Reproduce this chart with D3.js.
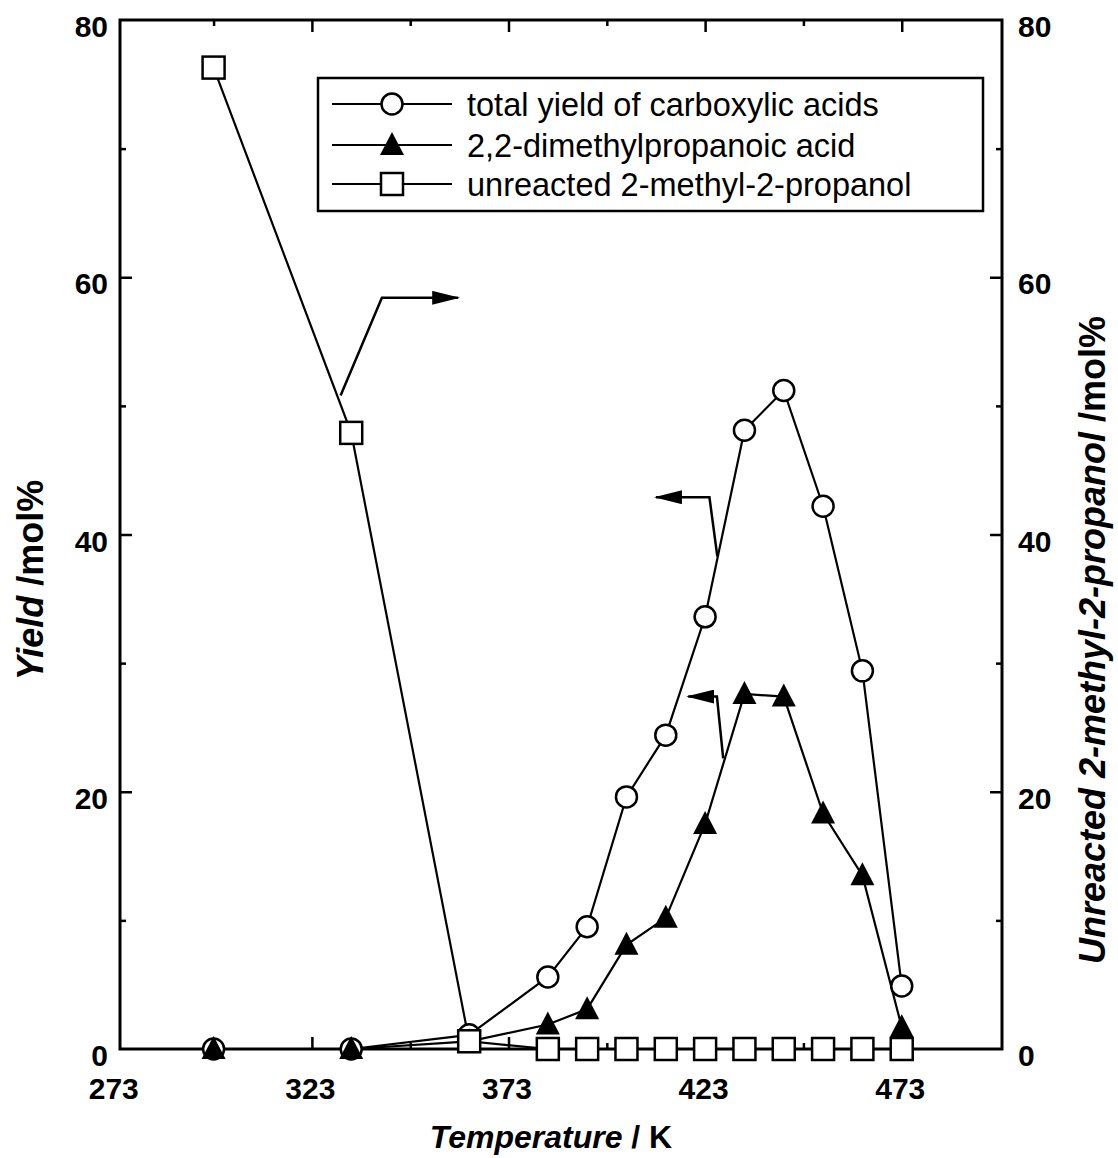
<!DOCTYPE html>
<html>
<head>
<meta charset="utf-8">
<script src="https://cdn.jsdelivr.net/npm/d3@7/dist/d3.min.js"></script>
<style>
  html, body { margin: 0; padding: 0; background: #fff; }
  svg { display: block; }
  text { font-family: "Liberation Sans", Arial, sans-serif; fill: #000; }
</style>
</head>
<body>
<svg id="chart" width="1118" height="1158"></svg>
<script>
// Reaction temperature (K)
const temps = [298, 333, 363, 383, 393, 403, 413, 423, 433, 443, 453, 463, 473];
// Total yield of carboxylic acids (mol%, left axis)
const totalYield = [0, 0, 1.1, 5.6, 9.5, 19.6, 24.4, 33.6, 48.1, 51.2, 42.2, 29.4, 4.9];
// 2,2-dimethylpropanoic acid yield (mol%, left axis)
const acidYield = [0, 0, 0.6, 1.9, 3.1, 8.1, 10.2, 17.5, 27.6, 27.4, 18.3, 13.5, 1.7];
// Unreacted 2-methyl-2-propanol (mol%, right axis)
const unreacted = [76.3, 47.9, 0.6, 0, 0, 0, 0, 0, 0, 0, 0, 0, 0];

const xTickLabels = [273, 323, 373, 423, 473];
const xMinorTicks = [298, 348, 398, 448];
const yTickLabels = [0, 20, 40, 60, 80];
const yMinorTicks = [10, 30, 50, 70];

const legendLabels = [
  "total yield of carboxylic acids",
  "2,2-dimethylpropanoic acid",
  "unreacted 2-methyl-2-propanol"
];

// Pointer arrows: [T, value] polylines, tail first, tip last
const pointerArrows = [
  [[330.3, 50.8], [340.8, 58.4], [360.2, 58.4]],
  [[426.1, 38.3], [424.1, 42.9], [410.5, 42.9]],
  [[427.6, 22.6], [426.0, 27.4], [418.7, 27.4]]
];

const svg = d3.select("#chart");
const L = 120, R = 1002, T = 20, B = 1049;

const x = d3.scaleLinear().domain([274.2, 498.5]).range([L, R]);
const yL = d3.scaleLinear().domain([0, 80]).range([B, T]);
const yR = d3.scaleLinear().domain([0, 80]).range([B, T]);

// frame
svg.append("rect")
  .attr("x", L).attr("y", T).attr("width", R - L).attr("height", B - T)
  .attr("fill", "none").attr("stroke", "#000").attr("stroke-width", 3);

function tickGroup(axis, tx, ty) {
  const g = svg.append("g").attr("transform", `translate(${tx},${ty})`).call(axis);
  g.select(".domain").remove();
  g.selectAll(".tick line").attr("stroke", "#000").attr("stroke-width", 2.5);
  g.selectAll("text").remove();
  return g;
}

// inward ticks on all four sides
tickGroup(d3.axisBottom(x).tickValues(xTickLabels.filter(v => x(v) > L)).tickSizeInner(-12).tickSizeOuter(0), 0, B);
tickGroup(d3.axisBottom(x).tickValues(xMinorTicks).tickSizeInner(-6).tickSizeOuter(0), 0, B);
tickGroup(d3.axisTop(x).tickValues(xTickLabels.filter(v => x(v) > L)).tickSizeInner(-12).tickSizeOuter(0), 0, T);
tickGroup(d3.axisTop(x).tickValues(xMinorTicks).tickSizeInner(-6).tickSizeOuter(0), 0, T);
tickGroup(d3.axisLeft(yL).tickValues(yTickLabels.slice(1, 4)).tickSizeInner(-12).tickSizeOuter(0), L, 0);
tickGroup(d3.axisLeft(yL).tickValues(yMinorTicks).tickSizeInner(-6).tickSizeOuter(0), L, 0);
tickGroup(d3.axisRight(yR).tickValues(yTickLabels.slice(1, 4)).tickSizeInner(-12).tickSizeOuter(0), R, 0);
tickGroup(d3.axisRight(yR).tickValues(yMinorTicks).tickSizeInner(-6).tickSizeOuter(0), R, 0);

// tick labels
function labelAxis(axis, tx, ty, anchor, dy) {
  const g = svg.append("g").attr("transform", `translate(${tx},${ty})`).call(axis);
  g.select(".domain").remove();
  g.selectAll(".tick line").remove();
  g.selectAll("text")
    .attr("font-family", "'Liberation Sans', Arial, sans-serif")
    .attr("font-size", 30).attr("font-weight", "bold")
    .attr("fill", "#000").attr("text-anchor", anchor)
    .attr("dy", dy).attr("x", 0).attr("y", 0);
  return g;
}
labelAxis(d3.axisBottom(x).tickValues(xTickLabels).tickSize(0), -2, B, "middle", "1.67em");
labelAxis(d3.axisLeft(yL).tickValues(yTickLabels).tickSize(0), L - 12, 0, "end", "0.55em");
labelAxis(d3.axisRight(yR).tickValues(yTickLabels).tickSize(0), R + 16, 0, "start", "0.55em");

// axis titles
const xt = svg.append("text").attr("x", 551).attr("y", 1148)
  .attr("text-anchor", "middle").attr("font-size", 32).attr("font-weight", "bold");
xt.append("tspan").attr("font-style", "italic").text("Temperature");
xt.append("tspan").text(" / K");

const ylt = svg.append("text").attr("transform", "translate(43,580) rotate(-90)")
  .attr("text-anchor", "middle").attr("font-size", 36).attr("font-weight", "bold");
ylt.append("tspan").attr("font-style", "italic").text("Yield");
ylt.append("tspan").text(" /mol%");

const yrt = svg.append("text").attr("transform", "translate(1105,640) rotate(-90)")
  .attr("text-anchor", "middle").attr("font-size", 36).attr("font-weight", "bold");
yrt.append("tspan").attr("font-style", "italic").text("Unreacted 2-methyl-2-propanol");
yrt.append("tspan").text(" /mol%");

// series lines
const lineL = d3.line().x(d => x(d[0])).y(d => yL(d[1]));
const lineR = d3.line().x(d => x(d[0])).y(d => yR(d[1]));
const ptsTotal = temps.map((t, i) => [t, totalYield[i]]);
const ptsAcid = temps.map((t, i) => [t, acidYield[i]]);
const ptsUnr = temps.map((t, i) => [t, unreacted[i]]);

[[ptsTotal, lineL], [ptsAcid, lineL], [ptsUnr, lineR]].forEach(([pts, gen]) => {
  svg.append("path").attr("d", gen(pts))
    .attr("fill", "none").attr("stroke", "#000").attr("stroke-width", 2.2);
});

// pointer arrows
svg.append("defs").append("marker")
  .attr("id", "head").attr("viewBox", "0 0 28 14")
  .attr("refX", 26).attr("refY", 7)
  .attr("markerWidth", 28).attr("markerHeight", 14)
  .attr("markerUnits", "userSpaceOnUse").attr("orient", "auto")
  .append("path").attr("d", "M0,0 L28,7 L0,14 Z").attr("fill", "#000");

pointerArrows.forEach((a, i) => {
  const ys = i === 0 ? yR : yL;
  svg.append("path")
    .attr("d", d3.line().x(d => x(d[0])).y(d => ys(d[1]))(a))
    .attr("fill", "none").attr("stroke", "#000").attr("stroke-width", 2.5)
    .attr("marker-end", "url(#head)");
});

// markers
const circle = (g, cx, cy) => g.append("circle").attr("cx", cx).attr("cy", cy).attr("r", 10.5)
  .attr("fill", "#fff").attr("stroke", "#000").attr("stroke-width", 2.5);
const tri = (g, cx, cy) => g.append("path")
  .attr("d", `M${cx},${cy - 13} L${cx + 12},${cy + 10} L${cx - 12},${cy + 10} Z`).attr("fill", "#000");
const square = (g, cx, cy) => g.append("rect").attr("x", cx - 11).attr("y", cy - 11)
  .attr("width", 22).attr("height", 22)
  .attr("fill", "#fff").attr("stroke", "#000").attr("stroke-width", 2.5);

const mk = svg.append("g");
ptsTotal.forEach(d => circle(mk, x(d[0]), yL(d[1])));
ptsAcid.forEach(d => tri(mk, x(d[0]), yL(d[1])));
ptsUnr.forEach(d => square(mk, x(d[0]), yR(d[1])));

// legend
const lg = svg.append("g");
lg.append("rect").attr("x", 318).attr("y", 78).attr("width", 665).attr("height", 133)
  .attr("fill", "#fff").attr("stroke", "#000").attr("stroke-width", 2.5);
const rows = [104, 145, 184];
const drawers = [circle, tri, square];
legendLabels.forEach((lab, i) => {
  lg.append("line").attr("x1", 332).attr("x2", 452).attr("y1", rows[i]).attr("y2", rows[i])
    .attr("stroke", "#000").attr("stroke-width", 2.2);
  drawers[i](lg, 392, rows[i]);
  lg.append("text").attr("x", 467).attr("y", rows[i]).attr("dy", "0.36em")
    .attr("font-size", 32.5).text(lab);
});
</script>
</body>
</html>
